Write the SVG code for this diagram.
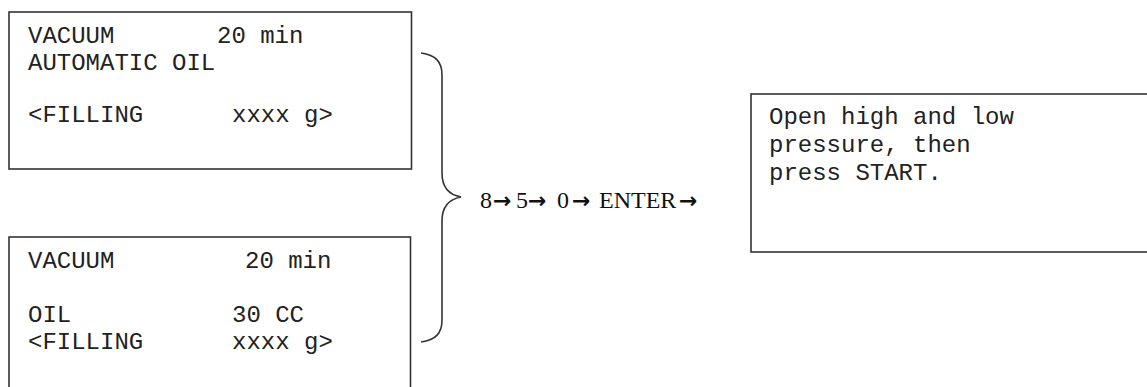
<svg xmlns="http://www.w3.org/2000/svg" width="1147" height="387" viewBox="0 0 1147 387">
<style>
.box{fill:#fff;stroke:#333;stroke-width:1.6}
.mono{font-family:"Liberation Mono","Courier New",monospace;font-size:24px;fill:#222}
.serif{font-family:"Liberation Serif","Times New Roman",serif;font-size:24px;fill:#111}
.arr{font-family:"DejaVu Sans",sans-serif;font-weight:bold;font-size:22px}
.brace{fill:none;stroke:#333;stroke-width:1.6}
</style>
<rect width="1147" height="387" fill="#fff"/>
<g id="screen-auto">
<rect class="box" x="9" y="12" width="402.5" height="157"/>
<text class="mono" x="28" y="43">VACUUM</text>
<text class="mono" x="217" y="43">20 min</text>
<text class="mono" x="28" y="70">AUTOMATIC OIL</text>
<text class="mono" x="28" y="122">&lt;FILLING</text>
<text class="mono" x="232" y="122">xxxx g&gt;</text>
</g>
<g id="screen-oil">
<rect class="box" x="9" y="237" width="401.5" height="160"/>
<text class="mono" x="28" y="268">VACUUM</text>
<text class="mono" x="245" y="268">20 min</text>
<text class="mono" x="28" y="322">OIL</text>
<text class="mono" x="232" y="322">30 CC</text>
<text class="mono" x="28" y="349">&lt;FILLING</text>
<text class="mono" x="232" y="349">xxxx g&gt;</text>
</g>
<g id="connectors">
<path class="brace" d="M421,53 C436,55 442,62 442,75 L442,173 C442,188 450,195 461,197 C450,199 442,206 442,221 L442,320 C442,333 436,340 421,342"/>
<text class="serif" y="208"><tspan x="480">8</tspan><tspan class="arr" x="493">→</tspan><tspan x="516">5</tspan><tspan class="arr" x="528">→</tspan><tspan x="557">0</tspan><tspan class="arr" x="572">→</tspan><tspan x="599">ENTER</tspan><tspan class="arr" x="679">→</tspan></text>
</g>
<g id="screen-start">
<rect class="box" x="751" y="94" width="410" height="158"/>
<text class="mono" x="769" y="124">Open high and low</text>
<text class="mono" x="769" y="152">pressure, then</text>
<text class="mono" x="769" y="180">press START.</text>
</g>
</svg>
